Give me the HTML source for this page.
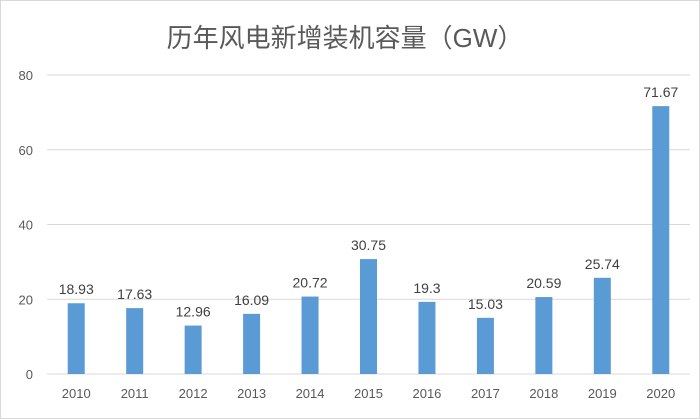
<!DOCTYPE html>
<html><head><meta charset="utf-8"><style>
html,body{margin:0;padding:0;background:#fff}
svg{display:block;font-family:"Liberation Sans","Noto Sans CJK SC",sans-serif}
</style></head><body>
<svg id="chart" width="700" height="419" viewBox="0 0 700 419">
<rect x="0.5" y="0.5" width="699" height="418" fill="#fff" stroke="#d9d9d9"/>
<text x="345" y="47" text-anchor="middle" font-size="26" fill="#595959">历年风电新增装机容量（GW）</text>
<g id="grid"></g><g id="bars"></g><g id="labels"></g><g id="xlabels"></g>
</svg>
<script>
const categories=["2010","2011","2012","2013","2014","2015","2016","2017","2018","2019","2020"];
const values=[18.93,17.63,12.96,16.09,20.72,30.75,19.3,15.03,20.59,25.74,71.67];
const valueLabels=["18.93","17.63","12.96","16.09","20.72","30.75","19.3","15.03","20.59","25.74","71.67"];
const yTicks=[0,20,40,60,80];
const NS="http://www.w3.org/2000/svg";
const x0=47,x1=690,yBase=374,yTop=75,yMax=80;
const y=v=>yBase-(v/yMax)*(yBase-yTop);
const step=(x1-x0)/categories.length;
const xc=i=>x0+step*(i+0.5);
function mk(t,a,p){const e=document.createElementNS(NS,t);for(const k in a)e.setAttribute(k,a[k]);p.appendChild(e);return e;}
const g=document.getElementById('grid');
yTicks.forEach(t=>{
  const l=mk('line',{x1:x0,x2:x1,y1:y(t),y2:y(t),stroke:'#d9d9d9','stroke-width':1},g);
  
  
  const tx=mk('text',{x:33,y:y(t)+5,'text-anchor':'end','font-size':13,fill:'#595959'},g);
  tx.textContent=t;
  
  
});
const b=document.getElementById('bars'),lb=document.getElementById('labels'),xl=document.getElementById('xlabels');
categories.forEach((c,i)=>{
  const r=mk('rect',{x:xc(i)-8.5,y:y(values[i]),width:17,height:yBase-y(values[i]),fill:'#5b9bd5'},b);
  
  
  const t=mk('text',{x:xc(i),y:y(values[i])-9,'text-anchor':'middle','font-size':14,fill:'#404040'},lb);
  t.textContent=valueLabels[i];
  
  
  const xt=mk('text',{x:xc(i),y:398,'text-anchor':'middle','font-size':13,fill:'#595959'},xl);
  xt.textContent=c;
  
  
});
</script>
</body></html>
